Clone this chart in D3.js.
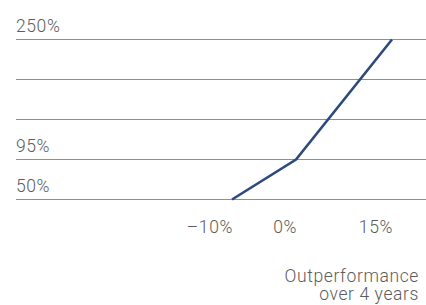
<!DOCTYPE html>
<head>
    <script src="https://d3js.org/d3.v7.min.js"></script>
</head>
<style>
body {
    margin: 0;
    font-family: "Roboto", "DejaVu Sans Condensed", sans-serif;
}
text {
    fill: #5c5c5c;
    font-size: 17.5px;
    font-weight: 300;
    letter-spacing: 0.6px;
}
</style>
<body>
<svg></svg>
<script>

    // Variables
    var width = 426;
    var height = 305;

    // data
    var gridLevels = ["50%", "95%", "", "", "250%"];
    var yValues = [50, 95, 250];          // values with a labelled gridline
    var xTicks = [-10, 0, 15];
    var xTickLabels = ["\u201310%", "0%", "15%"];
    var lineX = [-10, 0, 15];
    var lineY = [50, 95, 250];
    var axisTitle = ["Outperformance", "over 4 years"];

    var svg = d3.select("svg")
        .attr("width", width)
        .attr("height", height);

    // evenly spaced gridlines, bottom to top
    var band = d3.scalePoint()
        .domain(d3.range(gridLevels.length))
        .range([199.5, 39.5]);

    // piecewise y scale: each labelled value sits on its gridline
    var y = d3.scaleLinear()
        .domain(yValues)
        .range([band(0), band(1), band(4)]);

    var x = d3.scaleLinear()
        .domain([-10, 15])
        .range([232, 392]);

    svg.selectAll("line.grid")
        .data(d3.range(gridLevels.length))
        .enter().append("line")
        .attr("class", "grid")
        .attr("x1", 16)
        .attr("x2", width)
        .attr("y1", function (d) { return band(d); })
        .attr("y2", function (d) { return band(d); })
        .style("stroke", "#6c97c4")
        .style("stroke-width", 1.1);

    svg.selectAll("text.ylab")
        .data(gridLevels)
        .enter().append("text")
        .attr("class", "ylab")
        .attr("x", 16)
        .attr("y", function (d, i) { return band(i) - 8; })
        .text(function (d) { return d; });

    svg.selectAll("text.xlab")
        .data(xTicks)
        .enter().append("text")
        .attr("class", "xlab")
        .attr("x", function (d) { return x(d) + 1; })
        .attr("y", 232.5)
        .attr("text-anchor", "end")
        .text(function (d, i) { return xTickLabels[i]; });

    svg.selectAll("text.title")
        .data(axisTitle)
        .enter().append("text")
        .attr("class", "title")
        .attr("x", 419)
        .attr("y", function (d, i) { return 281.5 + i * 18.5; })
        .attr("text-anchor", "end")
        .text(function (d) { return d; });

    var line = d3.line()
        .x(function (d) { return x(d[0]); })
        .y(function (d) { return y(d[1]); });

    svg.append("path")
        .datum(d3.zip(lineX, lineY))
        .attr("d", line)
        .style("fill", "none")
        .style("stroke", "#2c4a7e")
        .style("stroke-width", 2.6);

</script>
</body>
